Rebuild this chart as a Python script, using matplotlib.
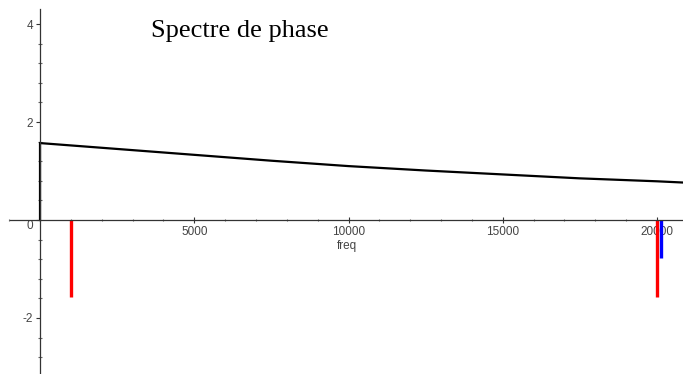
import matplotlib.pyplot as plt
from matplotlib.ticker import MultipleLocator, FixedLocator

# phase curve (rad) against frequency (Hz)
freq = [0, 0, 2500, 5000, 7500, 10000, 12500, 15000, 17500, 20000, 21000]
phase = [0, 1.57, 1.45, 1.33, 1.21, 1.10, 1.01, 0.93, 0.85, 0.79, 0.76]

# spectral lines
red_freq = [1000, 20010]
red_phase = [-1.57, -1.57]
blue_freq = [20130]
blue_phase = [-0.77]

x_ticks = [5000, 10000, 15000, 20000]
y_ticks = [-2, 0, 2, 4]
y_labels = ['-2', '0', '2', '4']

fig = plt.figure(figsize=(6.83, 3.74), dpi=100)
ax = fig.add_axes([0, 0, 1, 1])

ax.plot(freq, phase, color='black', lw=1.6, solid_joinstyle='miter')
for f, p in zip(red_freq, red_phase):
    ax.plot([f, f], [0, p], color='#ff0000', lw=2.4, solid_capstyle='butt')
for f, p in zip(blue_freq, blue_phase):
    ax.plot([f, f], [0, p], color='#0000ff', lw=2.4, solid_capstyle='butt')

ax.set_xlim(-1297, 20843)
ax.set_ylim(-3.143, 4.49)

for side in ['top', 'right']:
    ax.spines[side].set_visible(False)
ax.spines['left'].set_position(('data', 0))
ax.spines['bottom'].set_position(('data', 0))
ax.spines['left'].set_bounds(-3.143, 4.31)
ax.spines['bottom'].set_bounds(-970, 20843)
for side in ['left', 'bottom']:
    ax.spines[side].set_color('#333333')
    ax.spines[side].set_linewidth(0.9)

ax.set_xticks(x_ticks)
ax.set_yticks(y_ticks)
ax.set_yticklabels(y_labels)
ax.xaxis.set_minor_locator(MultipleLocator(1000))
minor_y = [round(-2.8 + 0.4 * i, 1) for i in range(18)]
ax.yaxis.set_minor_locator(FixedLocator([v for v in minor_y if v not in y_ticks]))
ax.tick_params(axis='x', which='major', direction='inout', length=4, width=0.8,
               colors='#333333', labelsize=8.5, pad=2, labelcolor='#444444')
ax.tick_params(axis='x', which='minor', direction='inout', length=1.5, width=0.8,
               colors='#666666')
ax.tick_params(axis='y', which='major', direction='out', length=3, width=0.8,
               colors='#333333', labelsize=8.5, pad=2, labelcolor='#444444')
ax.tick_params(axis='y', which='minor', direction='inout', length=2.5, width=0.8,
               colors='#666666')
for lab in ax.get_xticklabels() + ax.get_yticklabels():
    lab.set_fontfamily('Liberation Sans')
for lab in ax.get_yticklabels():
    if lab.get_text() == '0':
        lab.set_verticalalignment('top')

ax.text(0.508, 0.343, 'freq', transform=ax.transAxes, ha='center', va='center',
        fontsize=8.5, family='Liberation Sans', color='#444444')
ax.text(151 / 683, 1 - 37 / 374, 'Spectre de phase', transform=ax.transAxes,
        ha='left', va='baseline', fontsize=19, family='Liberation Serif', color='black')

fig.savefig('out.png', dpi=100)
